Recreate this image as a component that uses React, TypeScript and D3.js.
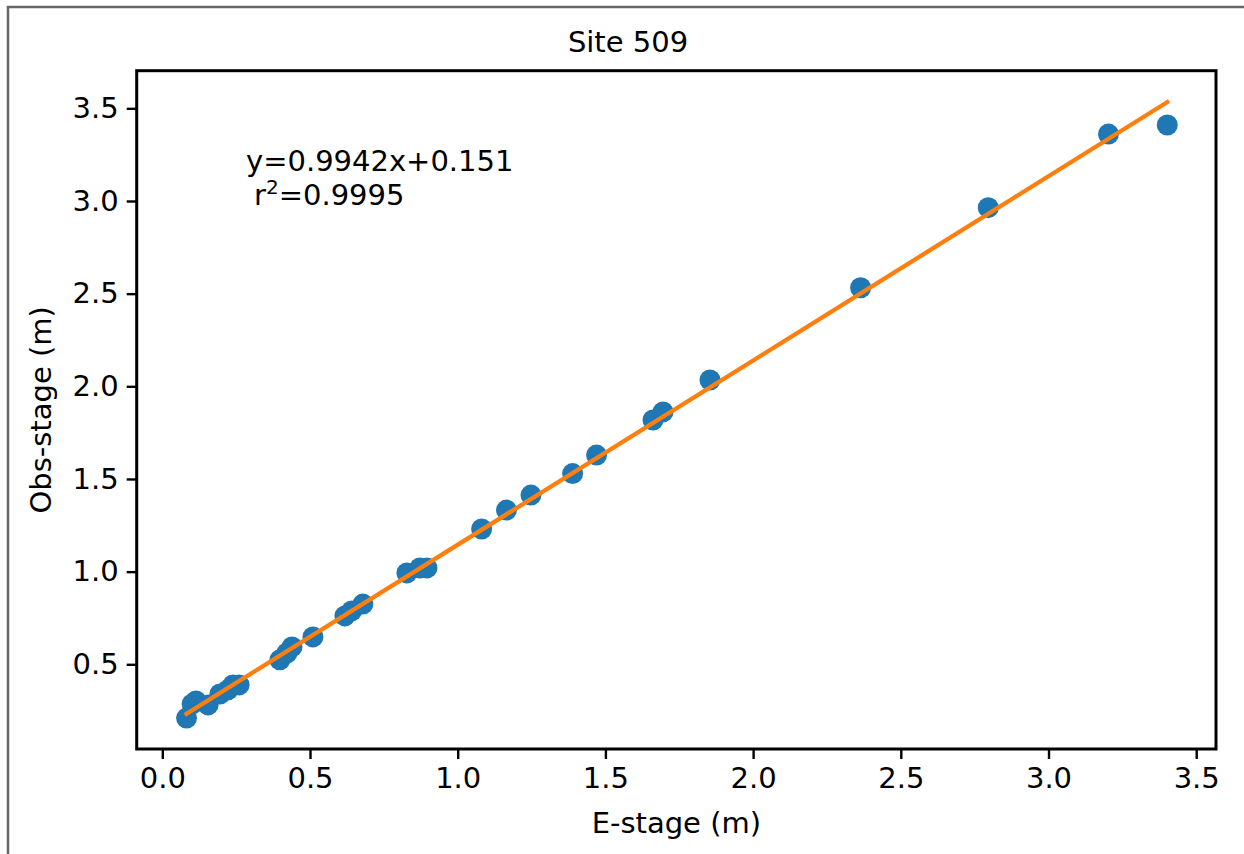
import React, { useEffect, useRef } from 'react';
import * as d3 from 'd3';

// E-stage vs Obs-stage readings for site 509
const eStage = [
  0.082, 0.101, 0.114, 0.155, 0.195, 0.222, 0.239, 0.26,
  0.398, 0.422, 0.439, 0.51, 0.618, 0.641, 0.679,
  0.828, 0.872, 0.896, 1.081, 1.165, 1.248,
  1.389, 1.47, 1.661, 1.695, 1.854, 2.364, 2.796, 3.203, 3.402,
];
const obsStage = [
  0.21, 0.286, 0.302, 0.281, 0.34, 0.362, 0.389, 0.389,
  0.524, 0.561, 0.594, 0.648, 0.761, 0.788, 0.825,
  0.993, 1.02, 1.02, 1.23, 1.332, 1.413,
  1.529, 1.629, 1.818, 1.862, 2.034, 2.532, 2.964, 3.361, 3.41,
];
const slope = 0.9942;
const intercept = 0.151;
const tickValues = [0, 0.5, 1, 1.5, 2, 2.5, 3, 3.5];

const App = () => {
  const svgRef = useRef<SVGSVGElement>(null);

  useEffect(() => {
    const W = 1244;
    const H = 854;
    const m = { left: 136.7, right: 1216, top: 70.7, bottom: 749 };
    const font = 'DejaVu Sans, sans-serif';
    const fs = 29;

    const svg = d3.select(svgRef.current).attr('width', W).attr('height', H);
    svg.selectAll('*').remove();

    svg.append('rect').attr('width', W).attr('height', H).attr('fill', '#fff');
    // outer gray frame (left + top)
    svg.append('path')
      .attr('d', `M8,${H}V7H${W}`)
      .attr('fill', 'none')
      .attr('stroke', '#666')
      .attr('stroke-width', 2.5);

    const x = d3.scaleLinear().domain([-0.0867, 3.567]).range([m.left, m.right]);
    const y = d3.scaleLinear().domain([0.043, 3.703]).range([m.bottom, m.top]);

    const xAxis = d3.axisBottom(x).tickValues(tickValues).tickFormat(d3.format('.1f'))
      .tickSize(10).tickPadding(8);
    const yAxis = d3.axisLeft(y).tickValues(tickValues.slice(1)).tickFormat(d3.format('.1f'))
      .tickSize(10).tickPadding(8);

    const gx = svg.append('g').attr('transform', `translate(0,${m.bottom})`).call(xAxis);
    const gy = svg.append('g').attr('transform', `translate(${m.left},0)`).call(yAxis);
    [gx, gy].forEach((g) => {
      g.select('.domain').remove();
      g.selectAll('line').attr('stroke', '#000').attr('stroke-width', 2.4);
      g.selectAll('text').attr('font-family', font).attr('font-size', fs).attr('fill', '#000');
    });

    const pts = eStage.map((e, i) => ({ x: e, y: obsStage[i] }));

    svg.append('g')
      .selectAll('circle')
      .data(pts)
      .join('circle')
      .attr('cx', (d) => x(d.x))
      .attr('cy', (d) => y(d.y))
      .attr('r', 10.5)
      .attr('fill', '#1f77b4');

    const xMin = d3.min(eStage) as number;
    const xMax = d3.max(eStage) as number;
    const fit = [xMin, xMax].map((v) => ({ x: v, y: slope * v + intercept }));
    const line = d3.line<{ x: number; y: number }>().x((d) => x(d.x)).y((d) => y(d.y));
    svg.append('path')
      .attr('d', line(fit))
      .attr('fill', 'none')
      .attr('stroke', '#ff7f0e')
      .attr('stroke-width', 4.3)
      .attr('stroke-linecap', 'square');

    // frame of the axes
    svg.append('rect')
      .attr('x', m.left).attr('y', m.top)
      .attr('width', m.right - m.left).attr('height', m.bottom - m.top)
      .attr('fill', 'none').attr('stroke', '#000').attr('stroke-width', 3);

    svg.append('text')
      .attr('x', 628).attr('y', 52)
      .attr('text-anchor', 'middle')
      .attr('font-family', font).attr('font-size', fs)
      .text('Site 509');

    svg.append('text')
      .attr('x', (m.left + m.right) / 2).attr('y', 833)
      .attr('text-anchor', 'middle')
      .attr('font-family', font).attr('font-size', fs)
      .text('E-stage (m)');

    svg.append('text')
      .attr('transform', `translate(51,${(m.top + m.bottom) / 2}) rotate(-90)`)
      .attr('text-anchor', 'middle')
      .attr('font-family', font).attr('font-size', fs)
      .text('Obs-stage (m)');

    svg.append('text')
      .attr('x', 246).attr('y', 171)
      .attr('font-family', font).attr('font-size', fs)
      .text(`y=${slope}x+${intercept}`);

    const r2 = svg.append('text')
      .attr('x', 254).attr('y', 205)
      .attr('font-family', font).attr('font-size', fs);
    r2.append('tspan').text('r');
    r2.append('tspan').attr('dy', -11).attr('font-size', 20).text('2');
    r2.append('tspan').attr('dy', 11).text('=0.9995');
  }, []);

  return <svg ref={svgRef} style={{ position: 'absolute', left: 0, top: 0, display: 'block' }} />;
};

export default App;
